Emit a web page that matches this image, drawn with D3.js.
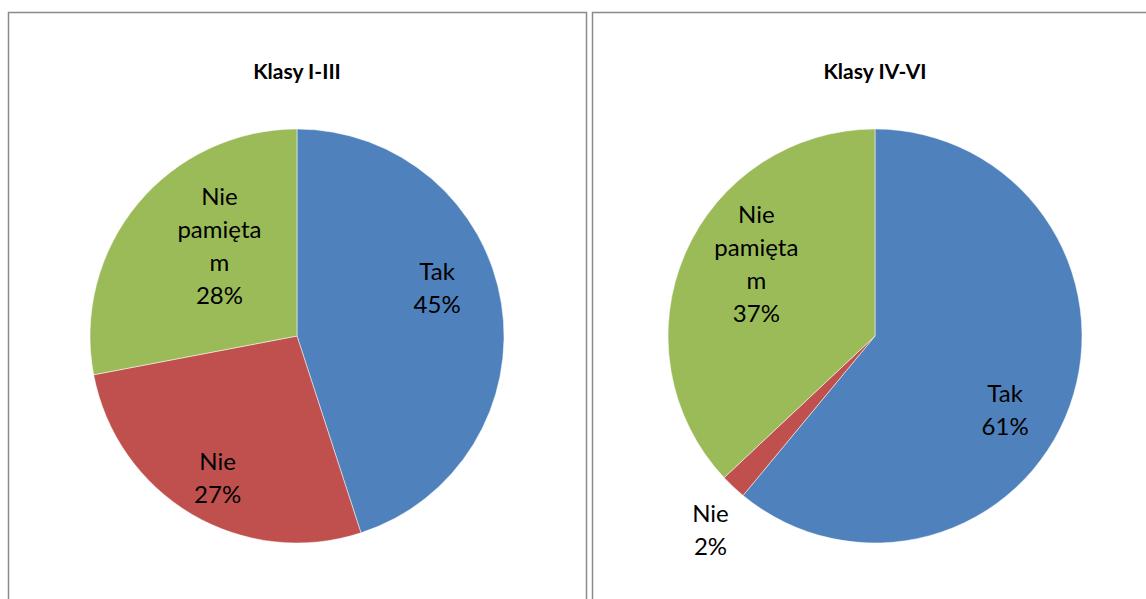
<!DOCTYPE html>
<html>
<head>
<meta charset="utf-8">
<script src="https://cdn.jsdelivr.net/npm/d3@7"></script>
<style>
    body { margin: 0; background: #fff; }
    text { font-family: Lato, "Open Sans", sans-serif; }
</style>
</head>
<body>
<div id="container"></div>
<script>
const categories = ["Tak", "Nie", "Nie pamiętam"]
const labelLines = [["Tak"], ["Nie"], ["Nie", "pamięta", "m"]]
const titles = ["Klasy I-III", "Klasy IV-VI"]
const valuesI_III = [45, 27, 28]
const valuesIV_VI = [61, 2, 37]
const colors = ["#4F81BD", "#C0504D", "#9BBB59"]

const width = 1146
const height = 599
const radius = 207
const labelRadius = 150

// excel "best fit" moves the labels a bit off the bisector
const labelNudge = [
    [[-8, -24], [-3, 13], [38, 6]],
    [[-11, 23], [10, 8], [19, -12]]
]
// small slices get their label outside the pie
const outsideRadius = 255

const panels = [
    { x: 8.5, w: 578, cx: 297, values: valuesI_III },
    { x: 592.5, w: 600, cx: 875, values: valuesIV_VI }
]

const svg = d3.select('#container')
    .append('svg').attr('width', width).attr('height', height)

svg.append("rect").attr("width", width).attr("height", height).attr("fill", "#fff")

const pie = d3.pie().sort(null).value(d => d)
const arc = d3.arc().innerRadius(0).outerRadius(radius)
const labelArc = d3.arc().innerRadius(labelRadius).outerRadius(labelRadius)
const outsideArc = d3.arc().innerRadius(outsideRadius).outerRadius(outsideRadius)

const drawPanel = (panel, idx) => {
    svg.append("rect")
        .attr("x", panel.x).attr("y", 12.5)
        .attr("width", panel.w).attr("height", 700)
        .attr("fill", "none")
        .attr("stroke", "#8a8a8a")
        .attr("stroke-width", 1.5)

    svg.append("text")
        .attr("x", panel.cx).attr("y", 79)
        .attr("text-anchor", "middle")
        .attr("font-weight", "bold")
        .attr("font-size", 21)
        .attr("fill", "#000")
        .text(titles[idx])

    const g = svg.append("g").attr("transform", `translate(${panel.cx}, 336)`)
    const arcs = pie(panel.values)

    g.selectAll("path").data(arcs).enter().append("path")
        .attr("d", arc)
        .attr("fill", (d, i) => colors[i])
        .attr("stroke", "#fff")
        .attr("stroke-width", 0.5)

    arcs.forEach((d, i) => {
        const small = d.data < 5
        const c = (small ? outsideArc : labelArc).centroid(d)
        const nudge = labelNudge[idx][i]
        const lines = labelLines[i].concat([d.data + "%"])
        const lh = 33
        const top = c[1] + nudge[1] - (lines.length - 1) * lh / 2
        const t = g.append("text")
            .attr("text-anchor", "middle")
            .attr("font-size", 24)
            .attr("fill", "#000")
        lines.forEach((s, k) => {
            t.append("tspan")
                .attr("x", c[0] + nudge[0])
                .attr("y", top + k * lh)
                .attr("dy", "0.35em")
                .text(s)
        })
    })
}

panels.forEach(drawPanel)
</script>
</body>
</html>
